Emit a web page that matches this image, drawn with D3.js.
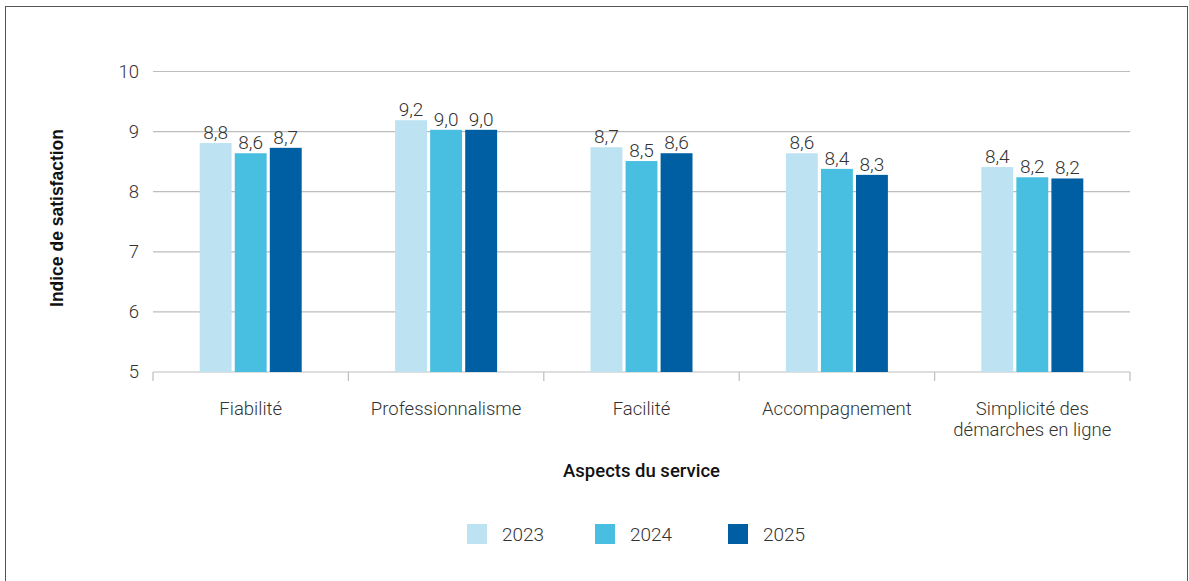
<!DOCTYPE html>
<html lang="fr">
<head>
<meta charset="utf-8">
<script src="https://cdn.jsdelivr.net/npm/d3@7"></script>
<style>
  html, body { margin: 0; padding: 0; background: #fff; }
  svg { display: block; }
  text { font-family: Roboto, "Noto Sans", sans-serif; fill: #333; }
</style>
</head>
<body>
<svg id="chart" width="1189" height="581"></svg>
<script>
// Satisfaction index by service aspect and year
const categories = [
  ["Fiabilité"],
  ["Professionnalisme"],
  ["Facilité"],
  ["Accompagnement"],
  ["Simplicité des", "démarches en ligne"]
];
const years = ["2023", "2024", "2025"];
const values2023 = [8.81, 9.19, 8.74, 8.64, 8.41];
const values2024 = [8.64, 9.03, 8.51, 8.38, 8.24];
const values2025 = [8.73, 9.03, 8.64, 8.28, 8.22];
const yTicks = [5, 6, 7, 8, 9, 10];
const colors = ["#bde3f2", "#48bfe0", "#005ea2"];

const series = [values2023, values2024, values2025];
const svg = d3.select("#chart");

// outer frame
svg.append("rect")
  .attr("x", 5.5).attr("y", 6.5)
  .attr("width", 1182).attr("height", 590)
  .attr("fill", "none").attr("stroke", "#555").attr("stroke-width", 1);

const plot = { left: 153, right: 1130, top: 71.5, bottom: 372 };

const x0 = d3.scaleBand()
  .domain(d3.range(categories.length))
  .range([plot.left, plot.right])
  .paddingInner(0).paddingOuter(0);

const groupWidth = 102;
const x1 = d3.scaleBand()
  .domain(years)
  .range([0, groupWidth])
  .paddingInner(0.09).paddingOuter(0);

const y = d3.scaleLinear().domain([5, 10]).range([plot.bottom, plot.top]);

// horizontal gridlines
svg.append("g")
  .selectAll("line")
  .data(yTicks.filter(t => t > 5))
  .join("line")
  .attr("x1", plot.left).attr("x2", plot.right)
  .attr("y1", d => y(d)).attr("y2", d => y(d))
  .attr("stroke", "#bdbdbd").attr("stroke-width", 1.2);

// y-axis labels
const yAxis = d3.axisLeft(y).tickValues(yTicks).tickSize(0).tickPadding(14)
  .tickFormat(d => String(d));
svg.append("g")
  .attr("transform", `translate(${plot.left},0)`)
  .call(yAxis)
  .call(g => g.select(".domain").remove())
  .call(g => g.selectAll("text")
    .style("font-size", "18.5px").style("fill", "#333")
    .style("font-family", "Roboto, sans-serif").style("font-weight", 300));

// x baseline and category separators
const xg = svg.append("g");
xg.append("line")
  .attr("x1", plot.left).attr("x2", plot.right)
  .attr("y1", plot.bottom).attr("y2", plot.bottom)
  .attr("stroke", "#bdbdbd").attr("stroke-width", 1.2);
const edges = x0.domain().map(i => x0(i)).concat([plot.right]);
xg.selectAll("line.sep")
  .data(edges)
  .join("line")
  .attr("class", "sep")
  .attr("x1", d => d).attr("x2", d => d)
  .attr("y1", plot.bottom).attr("y2", plot.bottom + 9)
  .attr("stroke", "#bdbdbd").attr("stroke-width", 1.2);

// category labels
const catLabels = svg.append("g")
  .selectAll("text")
  .data(categories)
  .join("text")
  .attr("x", (d, i) => x0(i) + x0.bandwidth() / 2)
  .attr("y", 415)
  .attr("text-anchor", "middle")
  .style("font-size", "18.5px").style("font-weight", 300);
catLabels.selectAll("tspan")
  .data(d => d)
  .join("tspan")
  .attr("x", function() { return d3.select(this.parentNode).attr("x"); })
  .attr("dy", (d, i) => i === 0 ? 0 : 20.5)
  .text(d => d);

// bars
const fmt = v => d3.format(".1f")(v).replace(".", ",");
const groups = svg.append("g")
  .selectAll("g")
  .data(categories.map((c, i) => i))
  .join("g")
  .attr("transform", i => `translate(${x0(i) + (x0.bandwidth() - groupWidth) / 2},0)`);

groups.selectAll("rect")
  .data(i => years.map((yr, k) => ({ yr, k, v: series[k][i] })))
  .join("rect")
  .attr("x", d => x1(d.yr))
  .attr("y", d => y(d.v))
  .attr("width", x1.bandwidth())
  .attr("height", d => y(5) - y(d.v))
  .attr("fill", d => colors[d.k]);

groups.selectAll("text")
  .data(i => years.map((yr, k) => ({ yr, k, v: series[k][i] })))
  .join("text")
  .attr("x", d => x1(d.yr) + x1.bandwidth() / 2)
  .attr("y", d => y(d.v) - 4)
  .attr("text-anchor", "middle")
  .style("font-size", "19px").style("font-weight", 300)
  .text(d => fmt(d.v));

// axis titles
svg.append("text")
  .attr("x", x0(2) + x0.bandwidth() / 2)
  .attr("y", 477)
  .attr("text-anchor", "middle")
  .style("font-size", "18.5px").style("font-weight", 500).style("fill", "#111")
  .text("Aspects du service");

svg.append("text")
  .attr("transform", "translate(63,218) rotate(-90)")
  .attr("text-anchor", "middle")
  .style("font-family", "'Liberation Sans', Arial, sans-serif")
  .style("font-size", "17.5px").style("font-weight", 700).style("fill", "#111")
  .text("Indice de satisfaction");

// legend
const legendX = [467, 595, 728];
const legend = svg.append("g")
  .selectAll("g")
  .data(years)
  .join("g")
  .attr("transform", (d, i) => `translate(${legendX[i]},524)`);
legend.append("rect")
  .attr("width", 20).attr("height", 20)
  .attr("fill", (d, i) => colors[i]);
legend.append("text")
  .attr("x", 35).attr("y", 17)
  .style("font-size", "19px").style("font-weight", 300)
  .text(d => d);
</script>
</body>
</html>
